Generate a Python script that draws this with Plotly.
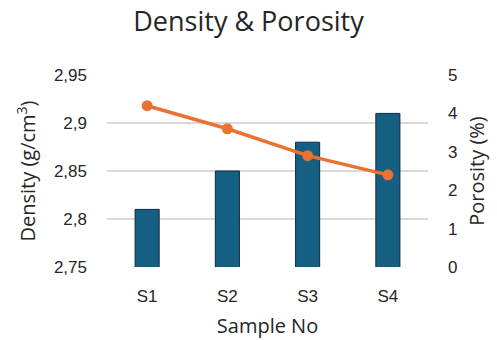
import plotly.graph_objects as go

samples = ["S1", "S2", "S3", "S4"]
density = [2.81, 2.85, 2.88, 2.91]
porosity = [4.2, 3.6, 2.9, 2.4]

density_ticks = [2.75, 2.8, 2.85, 2.9, 2.95]
density_ticktext = ["2,75", "2,8", "2,85", "2,9", "2,95"]
porosity_ticks = [0, 1, 2, 3, 4, 5]

BAR_COLOR = "#156082"
LINE_COLOR = "#E97132"
GRID_COLOR = "#D9D9D9"
TEXT_COLOR = "#262626"
TICK_FONT = dict(family="Liberation Sans", size=17, color=TEXT_COLOR)
TITLE_FONT = dict(family="Open Sans", size=20, color=TEXT_COLOR)

fig = go.Figure()

fig.add_trace(go.Bar(
    x=samples, y=density,
    marker=dict(color=BAR_COLOR, line=dict(color="#0E2841", width=1)),
    yaxis="y", name="Density",
))

fig.add_trace(go.Scatter(
    x=samples, y=porosity, mode="lines+markers",
    line=dict(color=LINE_COLOR, width=3.5),
    marker=dict(color=LINE_COLOR, size=11),
    yaxis="y2", name="Porosity",
))

fig.update_layout(
    width=497, height=340,
    margin=dict(l=107, r=69, t=75, b=73),
    paper_bgcolor="white", plot_bgcolor="white",
    showlegend=False,
    bargap=0.7,
    separators=",.",
    title=dict(
        text="Density & Porosity", x=0.5, xanchor="center",
        y=1 - 22 / 340, yanchor="middle",
        font=dict(family="Open Sans", size=27, color=TEXT_COLOR),
    ),
    xaxis=dict(
        showgrid=False, showline=False, zeroline=False,
        tickfont=TICK_FONT, automargin=False,
        ticks="", ticklabelstandoff=17,
        title=dict(text="Sample No", font=TITLE_FONT, standoff=13),
    ),
    yaxis=dict(
        range=[2.75, 2.95], tickvals=density_ticks, ticktext=density_ticktext,
        showgrid=True, gridcolor=GRID_COLOR, gridwidth=1.5,
        zeroline=False, showline=False, ticks="", automargin=False,
        ticklabelstandoff=19,
        tickfont=TICK_FONT,
        title=dict(text="Density (g/cm<sup>3</sup>)", font=TITLE_FONT, standoff=12),
    ),
    yaxis2=dict(
        range=[0, 5], tickvals=porosity_ticks, overlaying="y", side="right",
        showgrid=False, zeroline=False, showline=False, ticks="", automargin=False,
        ticklabelstandoff=19,
        tickfont=TICK_FONT,
        title=dict(text="Porosity (%)", font=TITLE_FONT, standoff=13),
    ),
)

fig.write_html("out.html")
